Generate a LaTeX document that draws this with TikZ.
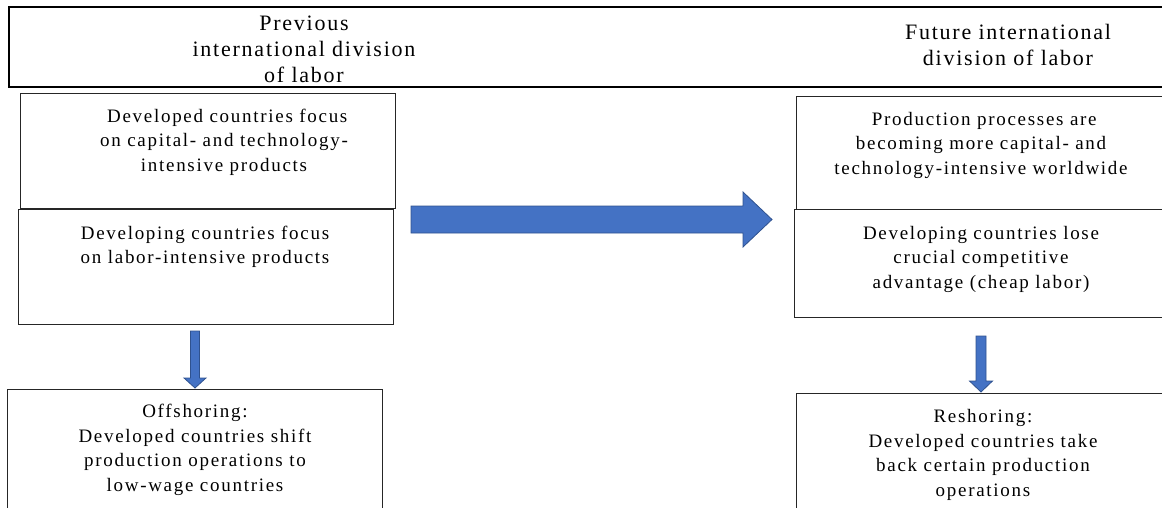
\documentclass[tikz,border=0pt]{standalone}
\usepackage{fontspec}
\setmainfont{Liberation Serif}
\newfontfamily\bodyfont[LetterSpace=9]{Liberation Serif}
\newfontfamily\headfont[LetterSpace=8]{Liberation Serif}
\usetikzlibrary{calc}
\definecolor{arrowblue}{HTML}{4472C4}
\definecolor{arrowedge}{HTML}{2F528F}
\begin{document}
\begin{tikzpicture}[x=1pt,y=-1pt,
  box/.style={draw=black!85, line width=0.9pt, inner sep=0pt, anchor=north west},
  txt/.style={align=center, inner sep=0pt, font=\bodyfont\fontsize{19}{24.5}\selectfont},
  headtxt/.style={align=center, inner sep=0pt, font=\headfont\fontsize{22}{26}\selectfont},
  blockarrow/.style={fill=arrowblue, draw=arrowedge, line width=0.8pt, line join=miter}]
\clip (0,0) rectangle (1162,508);
% header
\node[box, line width=2.2pt, draw=black, minimum width=1180, minimum height=80] (hdr) at (8,6) {};
\node[headtxt] (hl) at (304,49) {Previous\\international division\\of labor};
\node[headtxt] (hr) at (1008,45) {Future international\\division of labor};
% left boxes
\node[box, minimum width=375, minimum height=115] (l1) at (20,93) {};
\node[box, minimum width=375, minimum height=115] (l2) at (18,209) {};
\node[box, minimum width=375, minimum height=140] (lb) at (7,389) {};
% right boxes
\node[box, minimum width=380, minimum height=113] (r1) at (796,96) {};
\node[box, minimum width=380, minimum height=108] (r2) at (794,209) {};
\node[box, minimum width=380, minimum height=140] (rb) at (796,393) {};
% texts
\node[txt] (l1t) at (224,142) {\ Developed countries focus\\on capital- and technology-\\intensive products};
\node[txt] (l2t) at (205,247) {Developing countries focus\\on labor-intensive products};
\node[txt] (lbt) at (195,450) {Offshoring:\\Developed countries shift\\production operations to\\low-wage countries};
\node[txt] (r1t) at (981,145) {\ Production processes are\\becoming more capital- and\\technology-intensive worldwide};
\node[txt] (r2t) at (981,259) {Developing countries lose\\crucial competitive\\advantage (cheap labor)};
\node[txt] (rbt) at (983,455) {Reshoring:\\Developed countries take\\back certain production\\operations};
% arrows
\coordinate (bs) at (411,219.5);
\coordinate (be) at (772,219.5);
\filldraw[blockarrow] ($(bs)+(0,-13.5)$) -- ($(be)+(-29,-13.5)$) -- ($(be)+(-29,-27.5)$) -- (be)
  -- ($(be)+(-29,27.5)$) -- ($(be)+(-29,13.5)$) -- ($(bs)+(0,13.5)$) -- cycle;
\coordinate (d1s) at (195,331);
\coordinate (d1e) at (195,388);
\filldraw[blockarrow] ($(d1s)+(-4.5,0)$) -- ($(d1e)+(-4.5,-10)$) -- ($(d1e)+(-11,-10)$) -- (d1e)
  -- ($(d1e)+(11,-10)$) -- ($(d1e)+(4.5,-10)$) -- ($(d1s)+(4.5,0)$) -- cycle;
\coordinate (d2s) at (981,336);
\coordinate (d2e) at (981,392);
\filldraw[blockarrow] ($(d2s)+(-5,0)$) -- ($(d2e)+(-5,-11)$) -- ($(d2e)+(-11.5,-11)$) -- (d2e)
  -- ($(d2e)+(11.5,-11)$) -- ($(d2e)+(5,-11)$) -- ($(d2s)+(5,0)$) -- cycle;
\end{tikzpicture}
\end{document}
